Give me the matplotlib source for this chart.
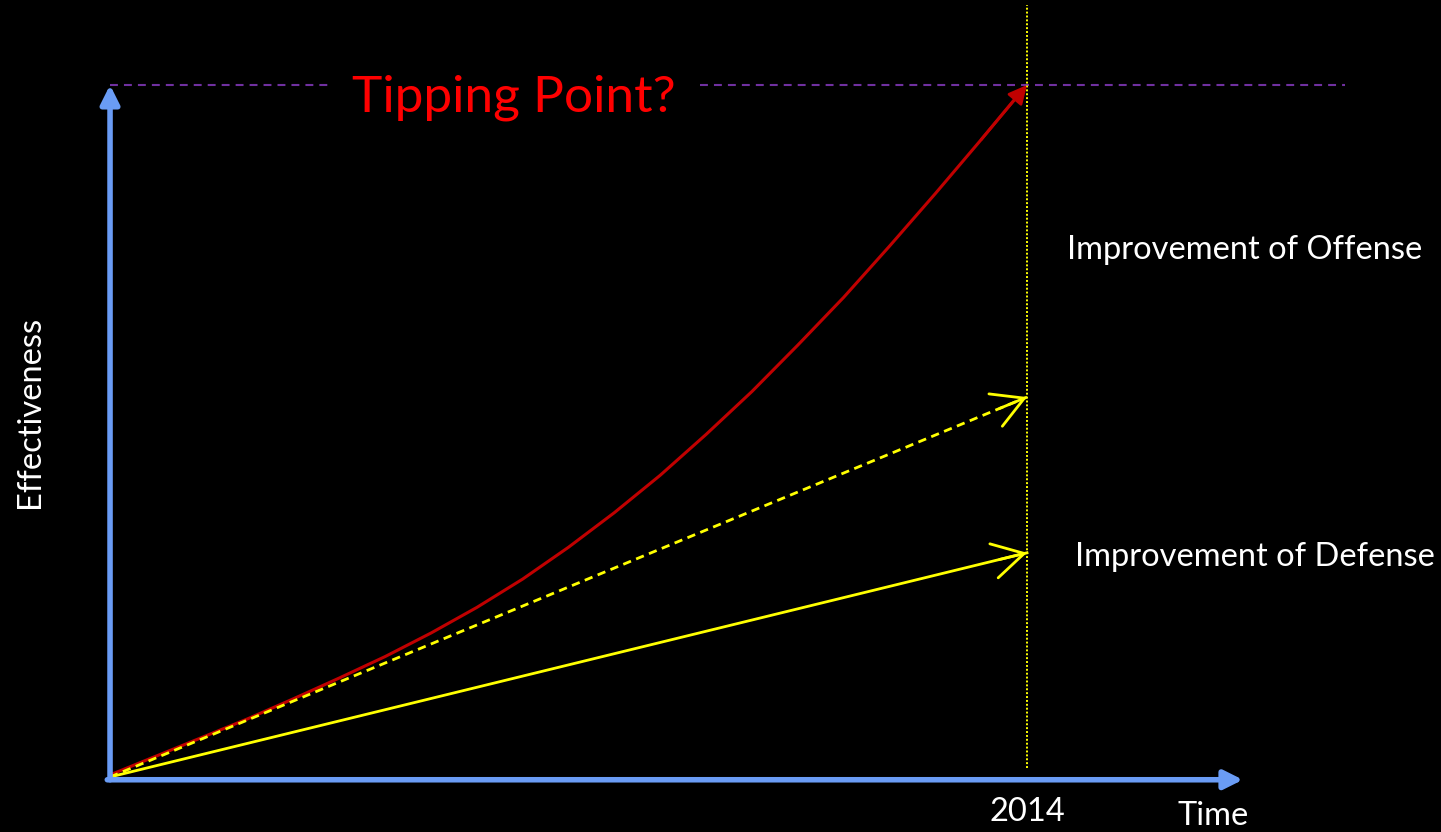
import numpy as np
import matplotlib
matplotlib.use("Agg")
import matplotlib.pyplot as plt

# --- data (time normalised so 2014 = 1, effectiveness so tipping point = 1) ---
offense_t = [0.0, 0.05, 0.1, 0.15, 0.2, 0.25, 0.3, 0.35, 0.4, 0.45, 0.5,
             0.55, 0.6, 0.65, 0.7, 0.75, 0.8, 0.85, 0.9, 0.95, 1.0]
offense_e = [0.003, 0.030, 0.057, 0.084, 0.113, 0.143, 0.174, 0.208, 0.245, 0.286, 0.332,
             0.382, 0.436, 0.495, 0.557, 0.624, 0.693, 0.767, 0.843, 0.921, 1.0]
expected_t = [0.0, 1.0]
expected_e = [0.0, 0.549]
defense_t = [0.0, 1.0]
defense_e = [0.0, 0.324]
tipping_level = 1.0
year_label = "2014"

BLUE = "#6a9cf5"
PURPLE = "#7030a0"
RED = "#c00000"
YELLOW = "#ffff00"

plt.rcParams['font.family'] = ['Lato', 'DejaVu Sans']

fig = plt.figure(figsize=(14.41, 8.32), dpi=100, facecolor="black")
ax = fig.add_axes([0, 0, 1, 1])
ax.set_facecolor("black")
ax.set_xlim(-0.12, 1.4515)
ax.set_ylim(-0.0795, 1.1228)
ax.axis("off")

# axes arrows
ax.annotate("", xy=(0, tipping_level), xytext=(0, -0.004),
            arrowprops=dict(arrowstyle="-|>", color=BLUE, lw=4, mutation_scale=28,
                            shrinkA=0, shrinkB=0))
ax.annotate("", xy=(1.2355, -0.004), xytext=(-0.003, -0.004),
            arrowprops=dict(arrowstyle="-|>", color=BLUE, lw=4, mutation_scale=28,
                            shrinkA=0, shrinkB=0))

# tipping point line
ax.plot([0.0, 0.24], [tipping_level] * 2, color=PURPLE, lw=1.5, ls=(0, (3.8, 2.9)))
ax.plot([0.643, 1.347], [tipping_level] * 2, color=PURPLE, lw=1.5, ls=(0, (3.8, 2.9)))
ax.text(0.44, tipping_level - 0.018, "Tipping Point?", color="#ff0000", fontsize=37,
        ha="center", va="center")

# 2014 marker
ax.plot([1.0, 1.0], [0.013, 1.1156], color=YELLOW, lw=1.4, ls=(0, (1, 1)))

# offense curve
ax.plot(offense_t[:-1] + [0.992], offense_e[:-1] + [0.988], color=RED, lw=2.2,
        solid_joinstyle="round")
ax.annotate("", xy=(offense_t[-1], offense_e[-1]), xytext=(offense_t[-2], offense_e[-2]),
            arrowprops=dict(arrowstyle="-|>", color=RED, lw=2, mutation_scale=28,
                            shrinkA=0, shrinkB=0))

# expected (dashed) and defense lines
ax.plot(expected_t, expected_e, color=YELLOW, lw=2, ls=(0, (3, 2)))
ax.plot(defense_t, defense_e, color=YELLOW, lw=2)
for tt, ee in [(expected_t, expected_e), (defense_t, defense_e)]:
    dx = tt[1] - tt[0]
    dy = ee[1] - ee[0]
    ax.annotate("", xy=(tt[1], ee[1]), xytext=(tt[1] - 0.03 * dx, ee[1] - 0.03 * dy),
                arrowprops=dict(arrowstyle="->,head_length=0.8,head_width=0.45", color=YELLOW,
                                lw=2, mutation_scale=28, shrinkA=0, shrinkB=0))

# labels
ax.text(1.237, 0.762, "Improvement of Offense", color="white", fontsize=23.5, ha="center", va="center")
ax.text(1.249, 0.318, "Improvement of Defense", color="white", fontsize=23.5, ha="center", va="center")
ax.text(-0.087, 0.527, "Effectiveness", color="white", fontsize=23.5, rotation=90,
        ha="center", va="center")
ax.text(1.0, -0.05, year_label, color="white", fontsize=23.5, ha="center", va="center")
ax.text(1.203, -0.057, "Time", color="white", fontsize=23.5, ha="center", va="center")

fig.savefig("out.png", dpi=100, facecolor="black")
